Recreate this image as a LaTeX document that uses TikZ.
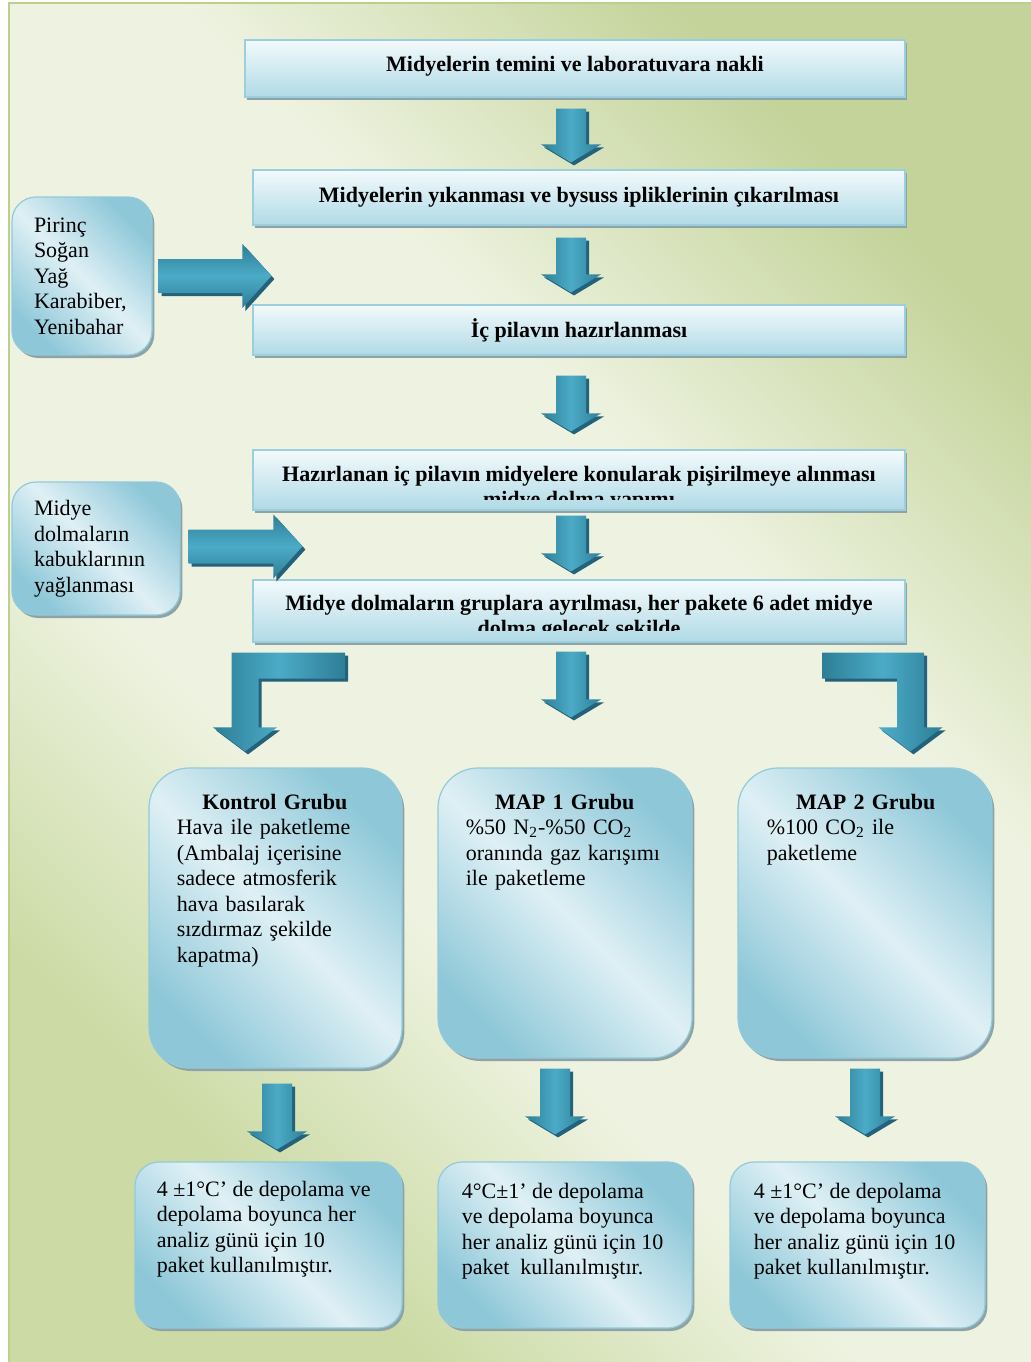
\documentclass[tikz,border=0pt]{standalone}
\usepackage{fontspec}
\setmainfont{Liberation Serif}
\usetikzlibrary{calc,shadows,positioning}

\definecolor{bgtr}{HTML}{C3D399}
\definecolor{bgbl}{HTML}{CCDBA6}
\definecolor{bgmid}{HTML}{EEF3E1}
\definecolor{bgline}{HTML}{BCD08E}
\definecolor{bartop}{HTML}{F3FAFC}
\definecolor{barbot}{HTML}{B0DAE6}
\definecolor{barline}{HTML}{9CCFDD}
\definecolor{barshade}{HTML}{8FA3A6}
\definecolor{boxdark}{HTML}{8DC7D8}
\definecolor{boxlight}{HTML}{DFF0F5}
\definecolor{boxline}{HTML}{93CADA}
\definecolor{arrdark}{HTML}{2E7E96}
\definecolor{arrlight}{HTML}{4BABC7}
\definecolor{arrshade}{HTML}{23627A}

\pgfdeclareverticalshading{bgfade}{100bp}{color(0bp)=(bgbl); color(27bp)=(bgbl);
  color(40bp)=(bgmid); color(60bp)=(bgmid); color(75bp)=(bgtr); color(100bp)=(bgtr)}

% block arrow pointing down: #1 top of shaft, #2 tip
\newcommand{\blockdown}[2]{%
  \path[blockarrow] let \p1=#1, \p2=#2 in
    (\x1-7.5pt,\y1) -- (\x1+7.5pt,\y1) -- (\x1+7.5pt,\y2+9pt) -- (\x1+15pt,\y2+9pt)
    -- (\x1,\y2) -- (\x1-15pt,\y2+9pt) -- (\x1-7.5pt,\y2+9pt) -- cycle;}
% block arrow pointing right: #1 tail of shaft, #2 tip
\newcommand{\blockright}[2]{%
  \path[blockarrowh] let \p1=#1, \p2=#2 in
    (\x1,\y1+8.5pt) -- (\x2-14.5pt,\y1+8.5pt) -- (\x2-14.5pt,\y1+16pt) -- (\x2,\y1)
    -- (\x2-14.5pt,\y1-16pt) -- (\x2-14.5pt,\y1-8.5pt) -- (\x1,\y1-8.5pt) -- cycle;}

\begin{document}
\begin{tikzpicture}[
  x=0.5pt, y=-0.5pt,
  every node/.style={font=\fontsize{11pt}{12.75pt}\selectfont},
  barbox/.style={draw=barline, line width=0.6pt, top color=bartop, bottom color=barbot,
                 minimum width=326pt, inner sep=0pt,
                 drop shadow={shadow xshift=1.2pt, shadow yshift=-1.5pt, fill=barshade, opacity=1}},
  bartxt/.style={font=\fontsize{11pt}{12.5pt}\selectfont\bfseries, align=center, inner sep=0pt},
  roundbox/.style={draw=boxline, line width=0.6pt, rounded corners=12pt,
                   top color=boxdark, bottom color=boxdark, middle color=boxlight, shading angle=-45,
                   drop shadow={shadow xshift=1.2pt, shadow yshift=-1.5pt, fill=barshade, opacity=1}},
  bodytxt/.style={align=left, inner sep=0pt, anchor=north west},
  blockarrow/.style={left color=arrdark, right color=arrdark, middle color=arrlight,
                     drop shadow={shadow xshift=1.5pt, shadow yshift=-1.5pt, fill=arrshade, opacity=1}},
  blockarrowh/.style={top color=arrdark, bottom color=arrdark, middle color=arrlight,
                      drop shadow={shadow xshift=1.5pt, shadow yshift=-1.5pt, fill=arrshade, opacity=1}}
]
\useasboundingbox (0,0) rectangle (1031,1362);
%% Background
\fill[white] (0,0) rectangle (1031,1362);
\path[shading=bgfade, shading angle=-45] (9,3) rectangle (1031,1362);
\draw[bgline, line width=1pt] (9,1362) -- (9,3) -- (1031,3);

%% Main steps
\node[barbox, minimum width=330pt, minimum height=28.5pt] (temin)  at (575,68.5) {};
\node[bartxt] at ([yshift=1pt]temin.center) {Midyelerin temini ve laboratuvara nakli};
\node[barbox, minimum height=27.5pt] (yikama) at (579,197.5) {};
\node[bartxt] at (yikama.center) {Midyelerin yıkanması ve bysuss ipliklerinin çıkarılması};
\node[barbox, minimum height=25pt]   (pilav)  at (579,330) {};
\node[bartxt] at (pilav.center) {İç pilavın hazırlanması};
\node[barbox, minimum height=30pt]   (dolma)  at (579,480) {};
\begin{scope}
  \clip (258,453) rectangle (900,499);
  \node[bartxt] (dolmatxt) at (579,489)
    {Hazırlanan iç pilavın midyelere konularak pişirilmeye alınması\\midye dolma yapımı};
\end{scope}
\node[barbox, minimum height=31pt]   (grup)   at (579,611) {};
\begin{scope}
  \clip (258,583) rectangle (900,630);
  \node[bartxt] (gruptxt) at (579,617.5)
    {Midye dolmaların gruplara ayrılması, her pakete 6 adet midye\\dolma gelecek şekilde};
\end{scope}

%% Side inputs
\node[roundbox, text width=48pt, inner xsep=11pt, minimum height=79pt, align=left] (malzeme) at (82,276)
  {Pirinç\\Soğan\\Yağ\\Karabiber,\\Yenibahar};
\node[roundbox, text width=62pt, inner xsep=11pt, minimum height=66.5pt, align=left] (yaglama) at (96,548.5)
  {Midye\\dolmaların\\kabuklarının\\yağlanması};

%% Groups
\node[roundbox, rounded corners=20pt, minimum width=126.5pt, minimum height=150pt] (kontrol) at (275.5,918) {};
\node[roundbox, rounded corners=20pt, minimum width=127pt, minimum height=145pt]   (mapbir)  at (565,913) {};
\node[roundbox, rounded corners=20pt, minimum width=127pt, minimum height=145pt]   (mapiki)  at (865,913) {};
\node[bodytxt, text width=98pt] at ([xshift=14pt,yshift=-13pt]kontrol.north west)
  {{\centering\bfseries Kontrol Grubu\par}Hava ile paketleme\\(Ambalaj içerisine\\sadece atmosferik\\hava basılarak\\sızdırmaz şekilde\\kapatma)};
\node[bodytxt, text width=99pt] at ([xshift=14pt,yshift=-13pt]mapbir.north west)
  {{\centering\bfseries MAP 1 Grubu\par}\%50 N\textsubscript{2}-\%50 CO\textsubscript{2}\\oranında gaz karışımı\\ile paketleme};
\node[bodytxt, text width=99pt] at ([xshift=14.5pt,yshift=-13pt]mapiki.north west)
  {{\centering\bfseries MAP 2 Grubu\par}\%100 CO\textsubscript{2} ile\\paketleme};

%% Storage
\node[roundbox, minimum width=133.5pt, minimum height=83pt] (depobir) at (268.5,1245) {};
\node[roundbox, minimum width=127pt, minimum height=83pt]   (depoiki) at (565,1245) {};
\node[roundbox, minimum width=127.5pt, minimum height=83pt] (depouc)  at (857.5,1245) {};
\node[bodytxt] at ([xshift=11pt,yshift=-9.5pt]depobir.north west)
  {4 ±1°C’ de depolama ve\\depolama boyunca her\\analiz günü için 10\\paket kullanılmıştır.};
\node[bodytxt] at ([xshift=12pt,yshift=-10.5pt]depoiki.north west)
  {4°C±1’ de depolama\\ve depolama boyunca\\her analiz günü için 10\\paket~ kullanılmıştır.};
\node[bodytxt] at ([xshift=12pt,yshift=-10.5pt]depouc.north west)
  {4 ±1°C’ de depolama\\ve depolama boyunca\\her analiz günü için 10\\paket kullanılmıştır.};

%% Arrows
\blockdown{([xshift=-2pt,yshift=-5.5pt]temin.south)}{([xshift=-4pt,yshift=3.5pt]yikama.north)}
\blockdown{([xshift=-4pt,yshift=-6pt]yikama.south)}{([xshift=-4pt,yshift=6pt]pilav.north)}
\blockdown{([xshift=-4pt,yshift=-10pt]pilav.south)}{([xshift=-4pt,yshift=9pt]dolma.north)}
\blockdown{([xshift=-4pt,yshift=-2.5pt]dolma.south)}{([xshift=-4pt,yshift=4pt]grup.north)}
\blockdown{([xshift=-4pt,yshift=-4.5pt]grup.south)}{([xshift=3pt,yshift=25pt]mapbir.north)}
\blockright{([xshift=3pt]malzeme.east)}{([xshift=9.5pt,yshift=15pt]pilav.north west)}
\blockright{([xshift=4pt,yshift=1pt]yaglama.east)}{([xshift=25pt,yshift=16pt]grup.north west)}

% bent arrows to the side groups
\path[blockarrow] let \p1=([xshift=-117pt,yshift=-5pt]grup.south),
                      \p2=([xshift=-15.25pt,yshift=8pt]kontrol.north) in
  (\x1,\y1) -- (\x2-6.75pt,\y1) -- (\x2-6.75pt,\y2+12pt) -- (\x2-16pt,\y2+12pt) -- (\x2,\y2)
  -- (\x2+16pt,\y2+12pt) -- (\x2+6.75pt,\y2+12pt) -- (\x2+6.75pt,\y1-13pt) -- (\x1,\y1-13pt) -- cycle;
\path[blockarrow] let \p1=([xshift=121.5pt,yshift=-5pt]grup.south),
                      \p2=([xshift=22.75pt,yshift=8pt]mapiki.north) in
  (\x1,\y1) -- (\x2+6.75pt,\y1) -- (\x2+6.75pt,\y2+12pt) -- (\x2+16pt,\y2+12pt) -- (\x2,\y2)
  -- (\x2-16pt,\y2+12pt) -- (\x2-6.75pt,\y2+12pt) -- (\x2-6.75pt,\y1-13pt) -- (\x1,\y1-13pt) -- cycle;

\blockdown{([xshift=0.75pt,yshift=-7.5pt]kontrol.south)}{([xshift=4.25pt,yshift=6pt]depobir.north)}
\blockdown{([xshift=-5pt,yshift=-5pt]mapbir.south)}{([xshift=-5pt,yshift=13.5pt]depoiki.north)}
\blockdown{([yshift=-5pt]mapiki.south)}{([xshift=3.75pt,yshift=13.5pt]depouc.north)}
\end{tikzpicture}
\end{document}
